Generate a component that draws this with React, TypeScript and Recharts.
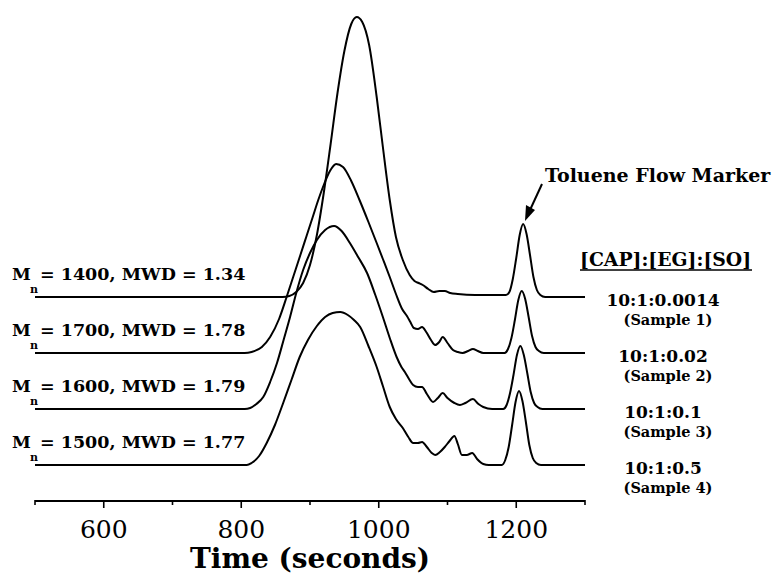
import { LineChart, Line, XAxis, YAxis } from "recharts";

type Pt = [number, number];

// time (s) vs detector response (trace height above its own baseline)
const sample1: Pt[] = [
  [500, 0], [860, 0], [870, 1], [880, 5], [890, 14], [900, 32], [910, 62], [920, 104],
  [930, 153], [940, 204], [950, 246], [960, 273], [968, 280], [976, 275], [986, 252],
  [997, 200], [1006, 150], [1016, 97], [1025, 60], [1035, 37], [1045, 22], [1052, 16],
  [1058, 14], [1064, 12], [1072, 8], [1080, 5], [1088, 6], [1096, 6], [1104, 4], [1115, 3],
  [1140, 2], [1170, 2], [1185, 2], [1190, 5], [1195, 18], [1200, 39], [1205, 62], [1210, 73],
  [1215, 63], [1220, 42], [1225, 20], [1230, 7], [1235, 2], [1242, 0], [1300, 0],
];

const sample2: Pt[] = [
  [500, 0], [805, 0], [815, 1], [830, 6], [842, 16], [855, 34], [866, 56], [876, 77],
  [886, 98], [895, 117], [904, 136], [912, 153], [920, 168], [929, 182], [938, 189],
  [948, 186], [960, 172], [972, 153], [985, 131], [997, 110], [1006, 94], [1016, 76],
  [1025, 59], [1034, 44], [1041, 37], [1046, 31], [1051, 25], [1057, 24], [1063, 26],
  [1069, 21], [1076, 13], [1082, 8], [1088, 11], [1093, 16], [1100, 10], [1108, 3],
  [1115, 1], [1122, 0], [1130, 2], [1137, 4], [1144, 2], [1152, 0], [1183, 0], [1188, 4],
  [1193, 15], [1198, 33], [1203, 53], [1208, 62], [1213, 54], [1218, 36], [1223, 17],
  [1228, 6], [1233, 2], [1240, 0], [1300, 0],
];

const sample3: Pt[] = [
  [500, 0], [805, 0], [813, 1], [822, 5], [832, 12], [842, 27], [852, 46], [862, 70],
  [871, 92], [880, 116], [890, 139], [900, 156], [910, 169], [922, 179], [935, 183],
  [946, 178], [958, 166], [970, 152], [983, 136], [995, 114], [1006, 92], [1016, 71],
  [1026, 52], [1033, 42], [1038, 37], [1044, 30], [1050, 24], [1057, 22], [1063, 22],
  [1070, 15], [1079, 7], [1086, 11], [1093, 16], [1100, 11], [1110, 6], [1118, 4],
  [1126, 6], [1137, 10], [1145, 5], [1152, 2], [1165, 0], [1181, 0], [1186, 4], [1191, 16],
  [1196, 34], [1201, 54], [1206, 63], [1211, 54], [1216, 36], [1221, 17], [1226, 6],
  [1231, 2], [1238, 0], [1300, 0],
];

const sample4: Pt[] = [
  [500, 0], [808, 0], [815, 2], [826, 9], [837, 22], [849, 40], [861, 62], [873, 85],
  [885, 108], [897, 125], [910, 139], [922, 148], [933, 152], [944, 153], [955, 150],
  [964, 145], [973, 138], [985, 119], [997, 98], [1006, 79], [1016, 58], [1025, 46],
  [1035, 37], [1043, 28], [1050, 22], [1057, 22], [1063, 23], [1070, 18], [1077, 12],
  [1082, 10], [1089, 13], [1096, 18], [1103, 24], [1110, 29], [1115, 21], [1121, 10],
  [1128, 10], [1136, 12], [1143, 6], [1152, 1], [1160, 0], [1179, 0], [1184, 5],
  [1189, 18], [1194, 40], [1199, 63], [1204, 74], [1209, 64], [1214, 43], [1219, 20],
  [1224, 7], [1229, 2], [1236, 0], [1300, 0],
];

const mnLabels = ["1400", "1700", "1600", "1500"];
const mwdLabels = ["1.34", "1.78", "1.79", "1.77"];
const ratioLabels = ["10:1:0.0014", "10:1:0.02", "10:1:0.1", "10:1:0.5"];
const sampleLabels = ["(Sample 1)", "(Sample 2)", "(Sample 3)", "(Sample 4)"];

const allTicks = [500, 600, 700, 800, 900, 1000, 1100, 1200, 1300];
const labelTicks = [600, 800, 1000, 1200];

const W = 781;
const H = 580;
const STEP = 56; // vertical spacing between stacked traces
const series = [sample1, sample2, sample3, sample4];
const baseY = [297, 353, 409, 465];

const serif = "'DejaVu Serif', serif";

const AxisTick = (props: any) => {
  const { x, y, payload } = props;
  const v = payload.value;
  const major = labelTicks.includes(v);
  const len = major ? 7 : 4;
  return (
    <g>
      <line x1={x} x2={x} y1={y - 1} y2={y + len} stroke="#000" strokeWidth={1.6} />
      {major && (
        <text x={x} y={y + 37} textAnchor="middle" fontFamily={serif} fontSize={25} fill="#000">
          {v}
        </text>
      )}
    </g>
  );
};

export default function App() {
  const lines = series.map((s, i) =>
    s.map(([t, v]) => ({ t, y: v + (3 - i) * STEP }))
  );

  return (
    <div style={{ position: "absolute", left: 0, top: 0, width: W, height: H, background: "#fff" }}>
      <LineChart width={W} height={H} margin={{ top: 0, right: 196, left: 35, bottom: 0 }}>
        <XAxis
          dataKey="t"
          type="number"
          domain={[500, 1300]}
          ticks={allTicks}
          tickSize={0}
          tickMargin={0}
          tickLine={false}
          tick={<AxisTick />}
          axisLine={{ stroke: "#000", strokeWidth: 2 }}
          height={79}
          allowDataOverflow
        />
        <YAxis hide type="number" domain={[-36, 465]} />
        {lines.map((d, i) => (
          <Line
            key={i}
            data={d}
            dataKey="y"
            type="monotone"
            stroke="#000"
            strokeWidth={2}
            dot={false}
            isAnimationActive={false}
          />
        ))}
      </LineChart>
      <svg
        width={W}
        height={H}
        style={{ position: "absolute", left: 0, top: 0, pointerEvents: "none" }}
        fontFamily={serif}
        fontWeight="bold"
        fill="#000"
      >
        {baseY.map((b, i) => (
          <g key={i}>
            <text x={12} y={b - 17} fontSize={17}>M</text>
            <text x={30} y={b - 4} fontSize={11}>n</text>
            <text x={40} y={b - 17} fontSize={17.5}>
              {`= ${mnLabels[i]}, MWD = ${mwdLabels[i]}`}
            </text>
            <text x={663} y={b + 9} fontSize={17} textAnchor="middle">
              {ratioLabels[i]}
            </text>
            <text x={668} y={b + 28} fontSize={14.5} textAnchor="middle">
              {sampleLabels[i]}
            </text>
          </g>
        ))}
        <text x={580} y={266} fontSize={18.8}>[CAP]:[EG]:[SO]</text>
        <line x1={580} x2={752} y1={270} y2={270} stroke="#000" strokeWidth={1.5} />
        <text x={545} y={182} fontSize={19}>Toluene Flow Marker</text>
        <line x1={542} y1={184} x2={530} y2={210} stroke="#000" strokeWidth={2} />
        <polygon points="525,221 526,205 535,210" fill="#000" />
        <text x={310} y={568} fontSize={28} textAnchor="middle">Time (seconds)</text>
      </svg>
    </div>
  );
}
